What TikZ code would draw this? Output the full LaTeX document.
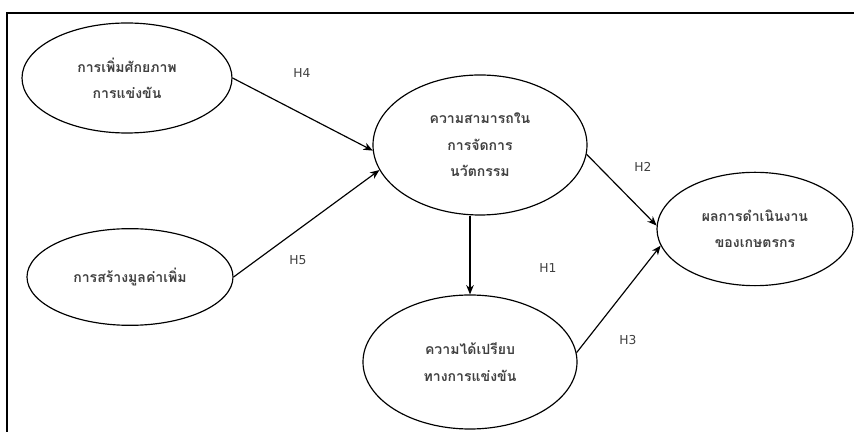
\documentclass[tikz,border=0pt]{standalone}
\usepackage{fontspec}
\setmainfont{DejaVu Sans}
\newfontfamily\thaifont[Script=Thai]{Loma}
\usetikzlibrary{shapes.geometric, arrows.meta}

\tikzset{
  varbox/.style={draw=black, line width=1pt, ellipse, inner sep=0pt, align=center,
    text=black!75, font=\thaifont\bfseries\fontsize{12}{22.5}\selectfont},
  hyparrow/.style={draw=black, line width=1pt, -{Stealth[length=8pt, width=6.5pt]}},
  hyplabel/.style={text=black!75, font=\fontsize{10.5}{12}\selectfont}
}

\begin{document}
\begin{tikzpicture}[x=0.03cm, y=-0.03cm]
    \useasboundingbox (0,0) rectangle (854,432);
    \draw[line width=2pt] (7,432) -- (7,13) -- (854,13);

    \node[varbox, minimum width=6.3cm, minimum height=3.3cm] (compete) at (127,78) {การเพิ่มศักยภาพ\\การแข่งขัน};
    \node[varbox, minimum width=6.18cm, minimum height=2.9cm] (value) at (130,277) {การสร้างมูลค่าเพิ่ม};
    \node[varbox, minimum width=6.42cm, minimum height=4.2cm] (innov) at (480,145) {ความสามารถใน\\การจัดการ\\นวัตกรรม};
    \node[varbox, minimum width=6.42cm, minimum height=4.02cm] (advan) at (470,362) {ความได้เปรียบ\\ทางการแข่งขัน};
    \node[varbox, minimum width=5.88cm, minimum height=3.4cm] (perf) at (755,229) {ผลการดำเนินงาน\\ของเกษตรกร};

    \draw[hyparrow] (compete.east) -- (innov.183);
    \draw[hyparrow] (value.east) -- (innov.194);
    \draw[hyparrow] (innov.south -| advan.north) -- (advan.north);
    \draw[hyparrow] (innov.355) -- (perf.178);
    \draw[hyparrow] (advan.5) -- (perf.190);

    \node[hyplabel] (h4) at (302,73) {H4};
    \node[hyplabel] (h5) at (298,260) {H5};
    \node[hyplabel] (h1) at (548,268) {H1};
    \node[hyplabel] (h2) at (643,167) {H2};
    \node[hyplabel] (h3) at (628,340) {H3};
\end{tikzpicture}
\end{document}
